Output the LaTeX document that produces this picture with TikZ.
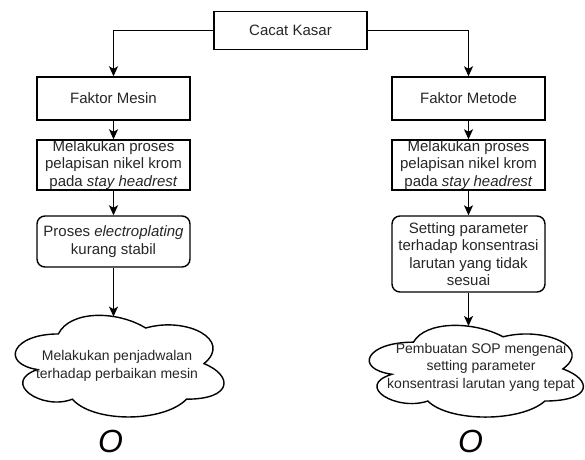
\documentclass[tikz,border=0pt]{standalone}
\usepackage{fontspec}
\setmainfont{Liberation Sans}
\usetikzlibrary{arrows.meta}

% draw.io style cloud outline in a box (x0,y0,w,h), y pointing down
\newcommand\cloudoutline[4]{%
  \begin{scope}[shift={(#1,#2)}, x=#3pt, y=-#4pt]
    \draw[cloudline] (0.25,0.25) .. controls (0.05,0.25) and (0,0.5) .. (0.16,0.55)
      .. controls (0,0.66) and (0.18,0.9) .. (0.31,0.8)
      .. controls (0.4,1) and (0.7,1) .. (0.8,0.8)
      .. controls (1,0.8) and (1,0.6) .. (0.875,0.5)
      .. controls (1,0.3) and (0.8,0.1) .. (0.625,0.2)
      .. controls (0.5,0.05) and (0.3,0.05) .. (0.25,0.25) -- cycle;
  \end{scope}}

\begin{document}
\begin{tikzpicture}[x=1pt, y=-1pt,
  every node/.style={font=\fontsize{15}{17.5}\selectfont, text=black!85, align=center, inner sep=0pt},
  box/.style={draw, line width=1.4pt, minimum width=153pt},
  rbox/.style={box, rounded corners=8pt},
  cloudline/.style={line width=1.4pt},
  cloudtext/.style={font=\fontsize{14}{17.5}\selectfont},
  link/.style={line width=1.4pt, -{Stealth[length=10pt, width=9pt, inset=2.5pt]}},
  bigO/.style={font=\fontsize{32}{32}\itshape, text=black, anchor=base}]

\useasboundingbox (0,0) rectangle (585,459);

% top level
\node[box, minimum width=153pt, minimum height=38pt] (cacat) at (290.5,30.5) {Cacat Kasar};

% machine branch
\node[box, minimum height=43pt] (mesin) at (113.5,98.5) {Faktor Mesin};
\node[box, minimum height=50pt] (lapisL) at (113.5,165)
  {Melakukan proses\\pelapisan nikel krom\\pada \textit{stay headrest}};
\node[rbox, minimum height=51pt] (elec) at (113.5,241.5)
  {Proses \textit{electroplating}\\kurang stabil};
\cloudoutline{0.1}{304.3}{233}{118.6}
\node[cloudtext] (solL) at (117,366) {Melakukan penjadwalan\\terhadap perbaikan mesin};
\coordinate (cloudLtop) at (113.5,316.6);
\node[bigO] (markL) at (110.5,452) {O};

% method branch
\node[box, minimum height=43pt] (metode) at (468.5,98.5) {Faktor Metode};
\node[box, minimum height=50pt] (lapisR) at (468.5,165)
  {Melakukan proses\\pelapisan nikel krom\\pada \textit{stay headrest}};
\node[rbox, minimum height=76pt] (setting) at (468.5,254)
  {Setting parameter\\terhadap konsentrasi\\larutan yang tidak\\sesuai};
\cloudoutline{353.7}{315.4}{239}{107}
\node[cloudtext] (solR) at (481,367) {Pembuatan SOP mengenai\\setting parameter\\konsentrasi larutan yang tepat};
\coordinate (cloudRtop) at (468.5,326);
\node[bigO] (markR) at (470.5,452) {O};

% connectors
\draw[link] (cacat.west) -| (mesin.north);
\draw[link] (cacat.east) -| (metode.north);
\draw[link] (mesin.south) -- (lapisL.north);
\draw[link] (lapisL.south) -- (elec.north);
\draw[link] (elec.south) -- (cloudLtop);
\draw[link] (metode.south) -- (lapisR.north);
\draw[link] (lapisR.south) -- (setting.north);
\draw[link] (setting.south) -- (cloudRtop);
\end{tikzpicture}
\end{document}
